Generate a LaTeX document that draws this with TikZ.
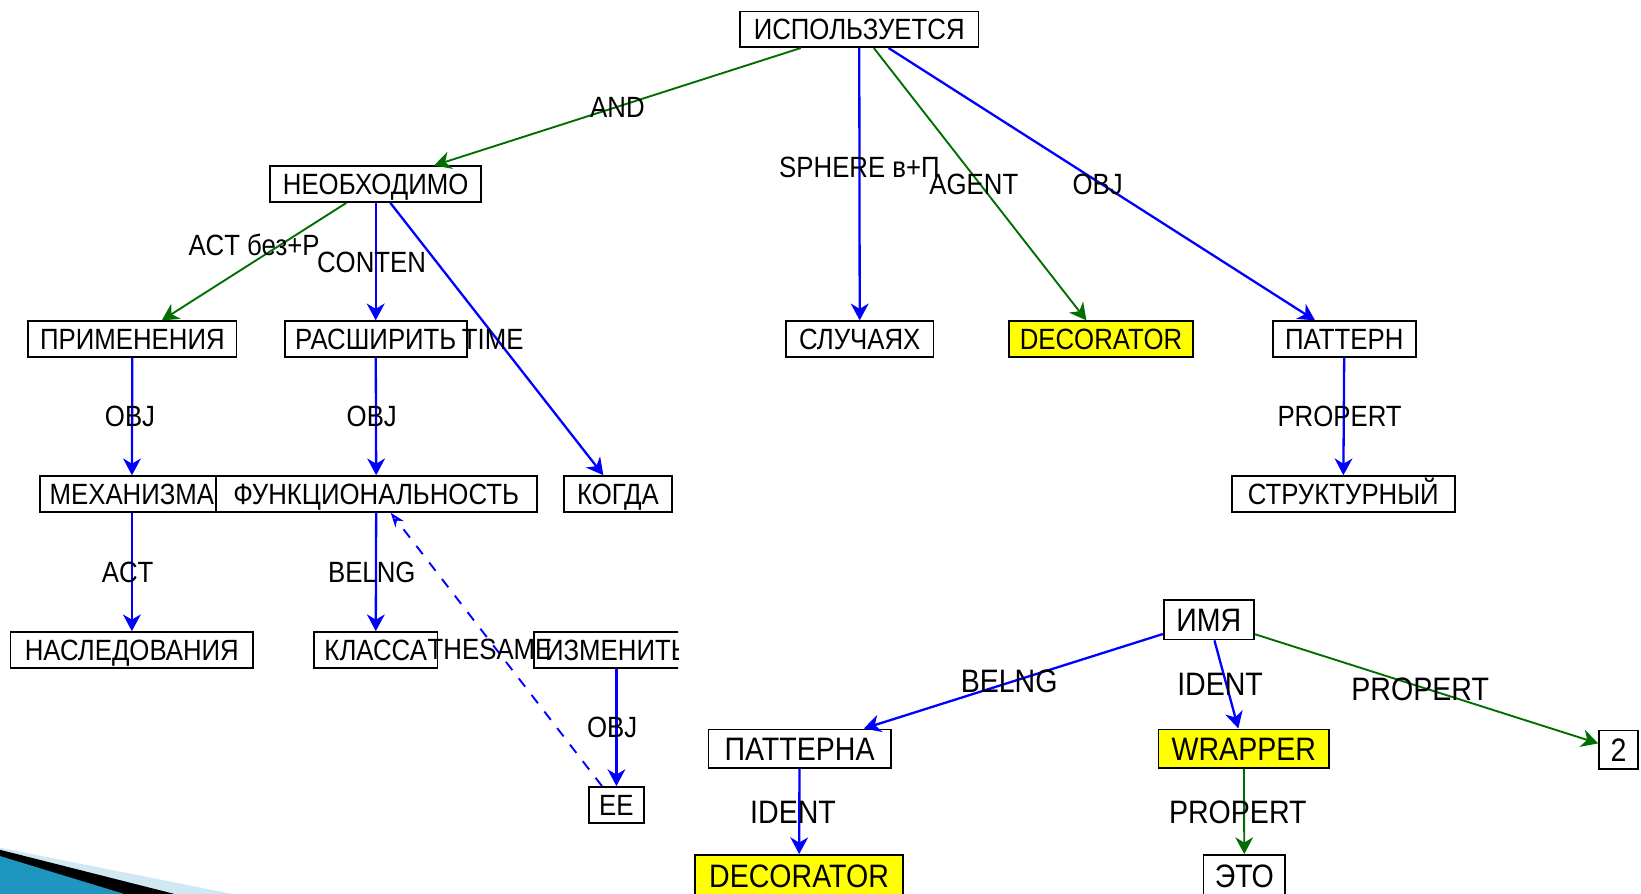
\documentclass[tikz,border=0pt]{standalone}
\usepackage{fontspec}
\setmainfont[FakeStretch=0.88]{Liberation Sans}
\usetikzlibrary{arrows.meta}
\definecolor{lnblue}{RGB}{0,0,255}
\definecolor{lngreen}{RGB}{0,110,0}
\definecolor{hl}{RGB}{255,255,0}
\definecolor{bulletteal}{RGB}{30,150,192}
\definecolor{bulletlight}{RGB}{208,232,242}

\begin{document}
\begin{tikzpicture}[x=0.5pt,y=-0.5pt,
  box/.style={draw=black,line width=0.9pt,fill=white,minimum height=17pt,
    inner sep=0pt,text height=10pt,text depth=0pt,
    font=\fontsize{14}{14}\selectfont},
  boxb/.style={box,minimum height=18.5pt,text height=11pt,
    font=\fontsize{15.5}{15.5}\selectfont},
  hlbox/.style={fill=hl},
  lbl/.style={inner sep=0pt,text height=10pt,text depth=0pt,
    font=\fontsize{14}{14}\selectfont},
  lblb/.style={inner sep=0pt,text height=11pt,text depth=0pt,
    font=\fontsize{15.5}{15.5}\selectfont},
  rel/.style={-{Stealth[length=8pt,width=8.5pt,inset=2.5pt]}},
  relb/.style={rel,line width=1.1pt,draw=lnblue},
  relg/.style={rel,line width=0.9pt,draw=lngreen},
  same/.style={line width=0.9pt,draw=lnblue,dash pattern=on 5pt off 5pt,
    -{Stealth[open,length=7pt,width=5pt]}},
]
\clip (0,0) rectangle (1568,854);
\fill[white] (0,0) rectangle (1568,854);

% slide bullet in the lower left corner
\fill[bulletlight] (0,810) -- (221,854) -- (0,854) -- cycle;
\fill[black] (0,812) -- (166,854) -- (0,854) -- cycle;
\fill[bulletteal] (0,818) -- (118,854) -- (0,854) -- cycle;

% upper tree
\node[box] (use) at (821,28) [minimum width=114pt] {ИСПОЛЬЗУЕТСЯ};
\node[box] (neob) at (359,176) [minimum width=101pt] {НЕОБХОДИМО};
\node[box] (prim) at (126.5,324) [minimum width=99.5pt] {ПРИМЕНЕНИЯ};
\node[box] (rassh) at (359,324) [minimum width=87pt] {РАСШИРИТЬ};
\node[box] (sluch) at (821.5,324) [minimum width=70.5pt] {СЛУЧАЯХ};
\node[box,hlbox] (deco) at (1052,324) [minimum width=88pt] {DECORATOR};
\node[box] (patt) at (1284.5,324) [minimum width=68.5pt] {ПАТТЕРН};
\node[box] (mech) at (126,472) [minimum width=88pt] {МЕХАНИЗМА};
\node[box] (func) at (359.5,472) [minimum width=153.5pt] {ФУНКЦИОНАЛЬНОСТЬ};
\node[box] (kogda) at (590.5,472) [minimum width=51.5pt] {КОГДА};
\node[box] (strukt) at (1283.5,472) [minimum width=106.5pt] {СТРУКТУРНЫЙ};
\node[box] (nasl) at (126,621) [minimum width=116pt] {НАСЛЕДОВАНИЯ};
\node[box] (klass) at (359,621) [minimum width=59pt] {КЛАССА};
\begin{scope}
  \clip (0,590) rectangle (648,660);
  \node[box] (izmen) at (589,621) [minimum width=79pt] {ИЗМЕНИТЬ};
\end{scope}
\node[box] (ee) at (589,769) [minimum width=26pt] {ЕЕ};

\draw[relg] (use) -- node[lbl] {AND} (neob);
\draw[relb] (use) -- node[lbl,yshift=8pt] {SPHERE в+П} (sluch);
\draw[relg] (use) -- node[lbl,xshift=-3pt] {AGENT} (deco);
\draw[relb] (use) -- node[lbl,xshift=-2pt] {OBJ} (patt);
\draw[relg] (neob) -- node[lbl,yshift=8pt] {ACT без+Р} (prim);
\draw[relb] (neob) -- node[lbl,xshift=-2pt] {CONTEN} (rassh);
\draw[relb] (neob) -- node[lbl,xshift=-2pt] {TIME} (kogda);
\draw[relb] (prim) -- node[lbl,xshift=-1pt] {OBJ} (mech);
\draw[relb] (rassh) -- node[lbl,xshift=-2pt] {OBJ} (func);
\draw[relb] (patt) -- node[lbl,xshift=-2pt] {PROPERT} (strukt);
\draw[relb] (mech) -- node[lbl,xshift=-2pt] {ACT} (nasl);
\draw[relb] (func) -- node[lbl,xshift=-2pt] {BELNG} (klass);
\draw[same] (ee) -- node[lbl,xshift=-3pt] {THESAME} (func);
\draw[relb] (izmen) -- node[lbl,xshift=-2pt] {OBJ} (ee);

% lower tree
\node[boxb] (imya) at (1155,592) [minimum width=43pt,minimum height=19pt] {ИМЯ};
\node[boxb] (pattA) at (764,715.5) [minimum width=87pt] {ПАТТЕРНА};
\node[boxb,hlbox] (wrap) at (1188.5,715.5) [minimum width=81.5pt] {WRAPPER};
\node[boxb] (two) at (1546.5,716.5) [minimum width=18.5pt] {2};
\node[boxb,hlbox] (decoB) at (763.5,837) [minimum width=99.5pt,minimum height=20pt] {DECORATOR};
\node[boxb] (eto) at (1189,837) [minimum width=39pt,minimum height=20pt] {ЭТО};

\draw[relb] (imya) -- node[lblb,xshift=-2pt] {BELNG} (pattA);
\draw[relb] (imya) -- node[lblb,xshift=-3pt] {IDENT} (wrap);
\draw[relg] (imya) -- node[lblb,xshift=-3pt] {PROPERT} (two);
\draw[relb] (pattA) -- node[lblb,xshift=-3pt] {IDENT} (decoB);
\draw[relg] (wrap) -- node[lblb,xshift=-3pt] {PROPERT} (eto);
\end{tikzpicture}
\end{document}
